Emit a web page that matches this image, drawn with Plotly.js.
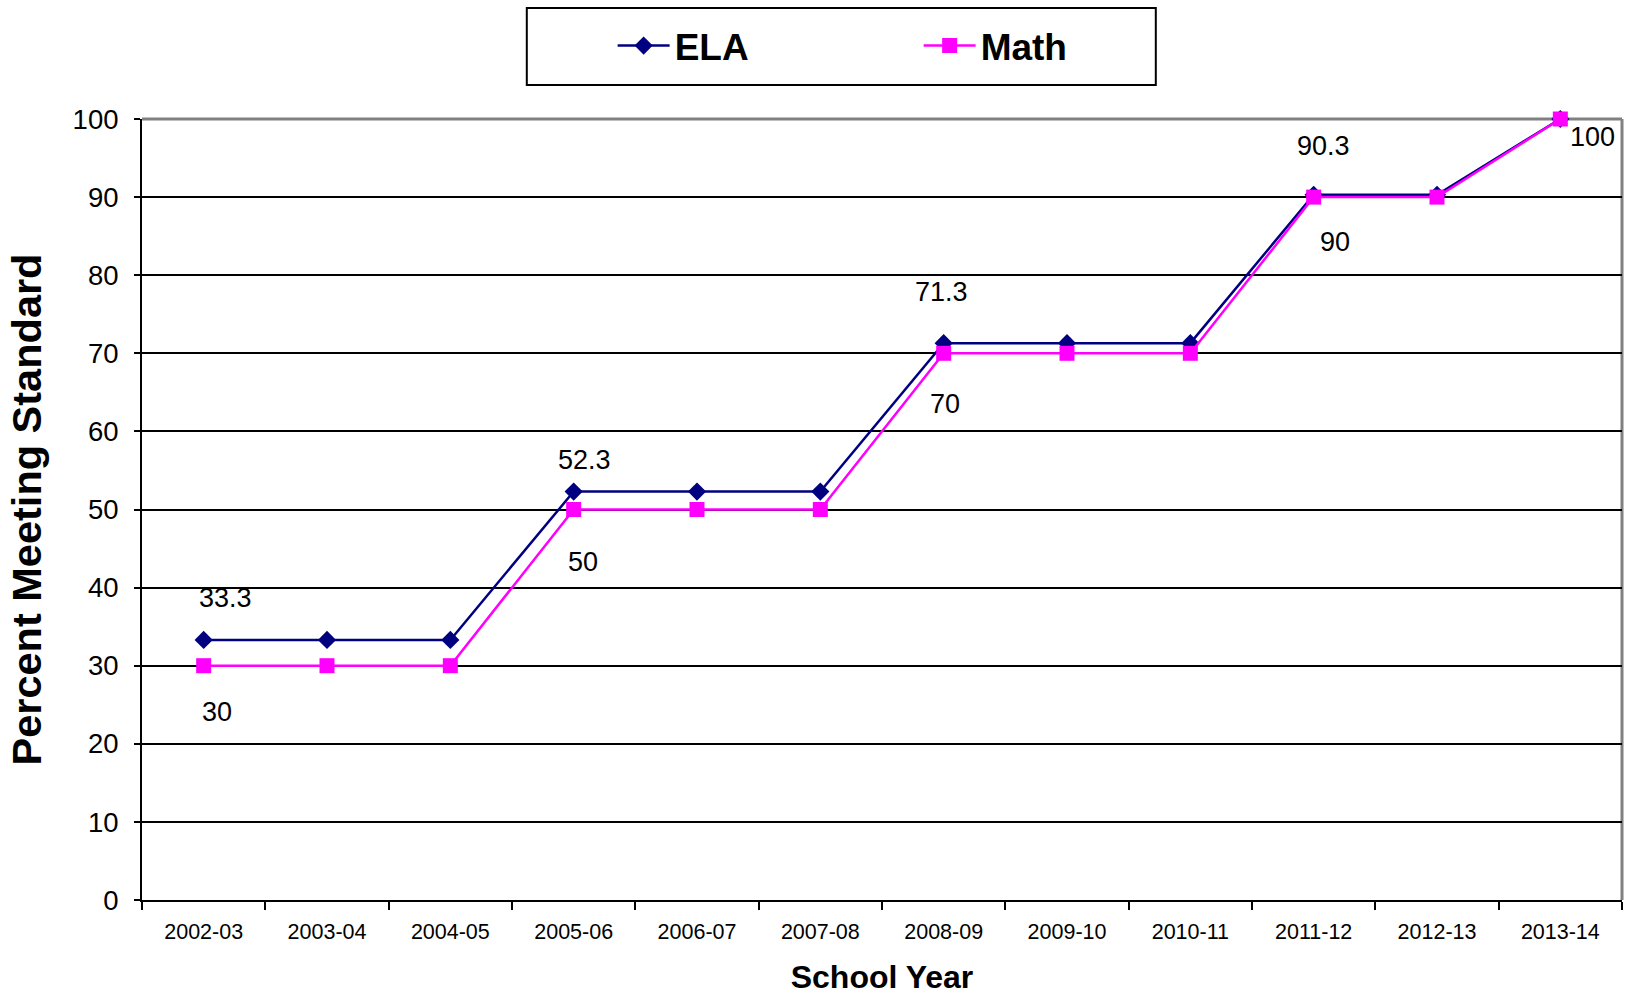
<!DOCTYPE html>
<html>
<head>
<meta charset="utf-8">
<script src="https://cdn.plot.ly/plotly-3.0.1.min.js"></script>
<style>
  html, body { margin: 0; padding: 0; background: #fff; }
  #chart { width: 1633px; height: 995px; }
</style>
</head>
<body>
<div id="chart"></div>
<script>
// School years on the horizontal axis
const schoolYears = ['2002-03', '2003-04', '2004-05', '2005-06', '2006-07', '2007-08',
                     '2008-09', '2009-10', '2010-11', '2011-12', '2012-13', '2013-14'];

// Percent meeting standard, by subject
const elaValues  = [33.3, 33.3, 33.3, 52.3, 52.3, 52.3, 71.3, 71.3, 71.3, 90.3, 90.3, 100];
const mathValues = [30, 30, 30, 50, 50, 50, 70, 70, 70, 90, 90, 100];

// Y axis ticks
const yTicks = [0, 10, 20, 30, 40, 50, 60, 70, 80, 90, 100];

// Which points carry a value label
const elaLabelIdx  = [0, 3, 6, 9];
const mathLabelIdx = [0, 3, 6, 9, 11];

// Pixel nudges for the value labels (same order as the index lists)
const elaLabelShift  = [[22, 42], [11, 32], [-2, 51], [10, 49]];
const mathLabelShift = [[13, -46], [9, -52], [1, -51], [21, -45], [32, -18]];

const NAVY = '#000080';
const MAGENTA = '#FF00FF';
const FONT = 'Liberation Sans, Arial, sans-serif';

const traces = [
  {
    type: 'scatter', mode: 'lines+markers', name: 'ELA',
    x: schoolYears, y: elaValues, cliponaxis: false,
    line: { color: NAVY, width: 2.5 },
    marker: { symbol: 'diamond', size: 14, color: NAVY }
  },
  {
    type: 'scatter', mode: 'lines+markers', name: 'Math',
    x: schoolYears, y: mathValues, cliponaxis: false,
    line: { color: MAGENTA, width: 2.5 },
    marker: { symbol: 'square', size: 15, color: MAGENTA }
  }
];

const annotations = [];
elaLabelIdx.forEach((i, k) => {
  annotations.push({
    x: schoolYears[i], y: elaValues[i], xref: 'x', yref: 'y',
    text: String(elaValues[i]), showarrow: false,
    xshift: elaLabelShift[k][0], yshift: elaLabelShift[k][1],
    font: { family: FONT, size: 27, color: '#000' }
  });
});
mathLabelIdx.forEach((i, k) => {
  annotations.push({
    x: schoolYears[i], y: mathValues[i], xref: 'x', yref: 'y',
    text: String(mathValues[i]), showarrow: false,
    xshift: mathLabelShift[k][0], yshift: mathLabelShift[k][1],
    font: { family: FONT, size: 27, color: '#000' }
  });
});

const layout = {
  width: 1633, height: 995,
  margin: { l: 142, r: 11, t: 119, b: 95, pad: 0 },
  paper_bgcolor: '#fff', plot_bgcolor: '#fff',
  font: { family: FONT, color: '#000' },
  showlegend: true,
  legend: {
    orientation: 'h', x: 0.318, xanchor: 'left', y: 1.0935, yanchor: 'middle',
    entrywidth: 239, entrywidthmode: 'pixels', itemwidth: 52,
    bgcolor: 'rgba(0,0,0,0)', borderwidth: 0,
    font: { family: FONT, size: 37, color: '#000', weight: 'bold' }
  },
  xaxis: {
    type: 'category', range: [-0.5, 11.5], fixedrange: true,
    showline: true, linecolor: '#000', linewidth: 2,
    ticks: 'outside', tickson: 'boundaries', ticklen: 8, tickwidth: 2, tickcolor: '#000',
    showgrid: false, zeroline: false,
    tickfont: { family: FONT, size: 21.5, color: '#000' },
    ticklabelstandoff: 11,
    title: { text: 'School Year', standoff: 24,
             font: { family: FONT, size: 32, color: '#000', weight: 'bold' } }
  },
  yaxis: {
    range: [0, 100], tickvals: yTicks, fixedrange: true,
    showline: true, linecolor: '#000', linewidth: 2,
    ticks: 'outside', ticklen: 6, tickwidth: 2, tickcolor: '#000',
    showgrid: true, gridcolor: '#000', gridwidth: 2, zeroline: false,
    tickfont: { family: FONT, size: 27.5, color: '#000' },
    ticklabelstandoff: 10,
    title: { text: 'Percent Meeting Standard', standoff: 18,
             font: { family: FONT, size: 41.5, color: '#000', weight: 'bold' } }
  },
  shapes: [
    // gray frame on top and right of the plot area
    { type: 'line', xref: 'paper', yref: 'paper', x0: 0, x1: 1, y0: 1, y1: 1,
      line: { color: '#808080', width: 3 }, layer: 'between' },
    { type: 'line', xref: 'paper', yref: 'paper', x0: 1, x1: 1, y0: 0, y1: 1,
      line: { color: '#808080', width: 3 }, layer: 'between' },
    // legend frame
    { type: 'rect', xref: 'paper', yref: 'paper', x0: 0.260, x1: 0.685, y0: 1.0435, y1: 1.142,
      line: { color: '#000', width: 2 }, fillcolor: 'rgba(0,0,0,0)' }
  ],
  annotations: annotations
};

Plotly.newPlot('chart', traces, layout, { displayModeBar: false, staticPlot: true });
</script>
</body>
</html>
